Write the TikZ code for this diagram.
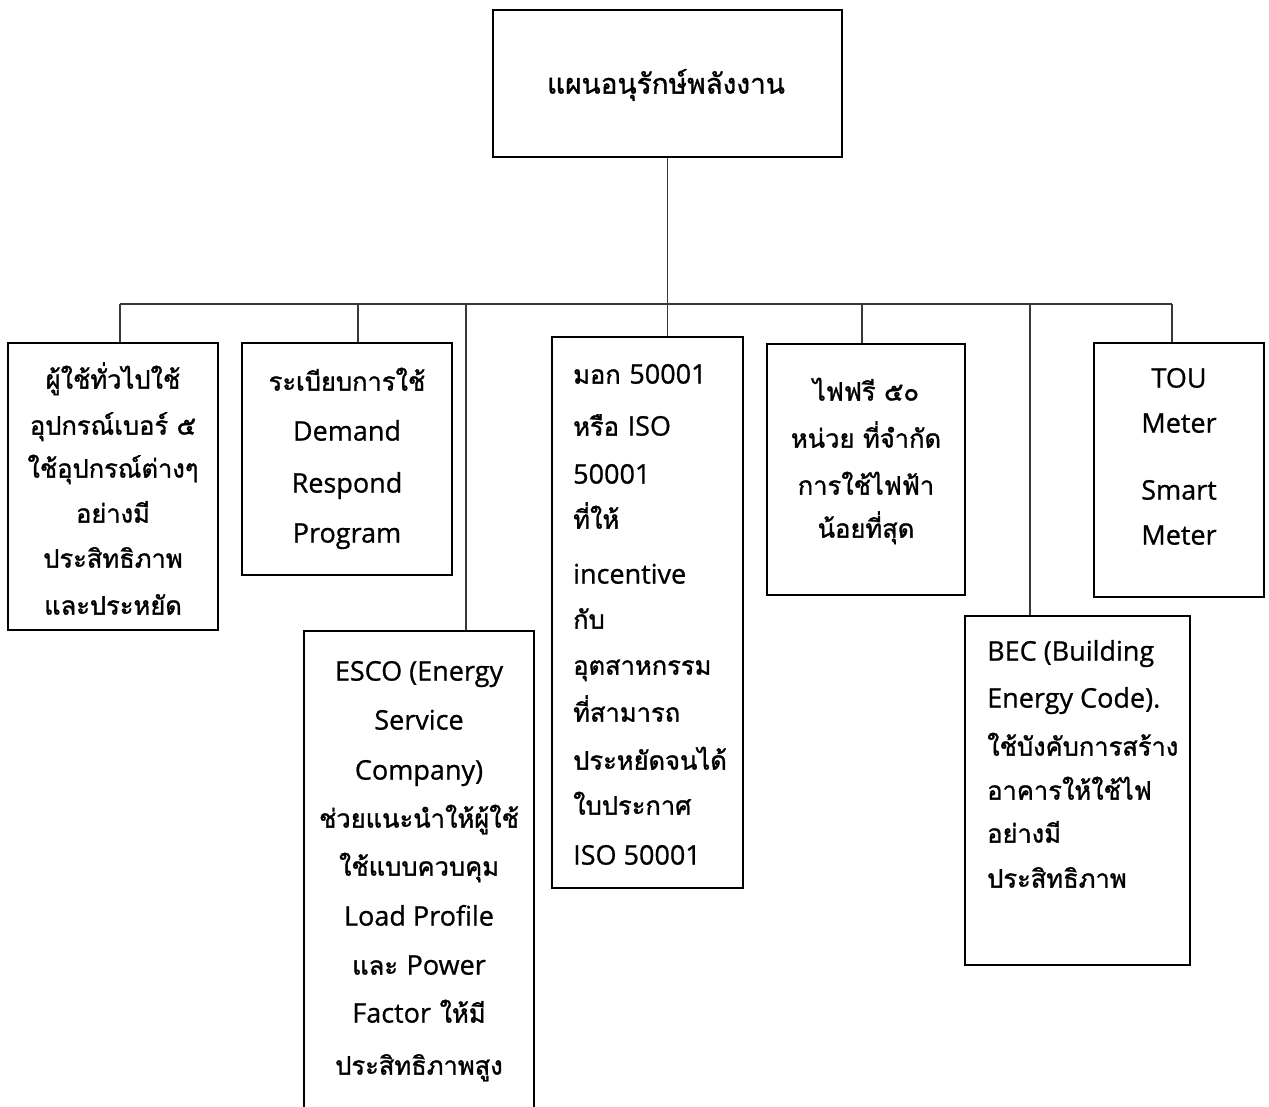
\documentclass[tikz,border=0pt]{standalone}
\usepackage{fontspec}
\setmainfont{Loma}[Script=Thai,FakeBold=1.2]
\newfontfamily\latfont{Open Sans}[FakeBold=0.8]
% Latin words are set in a separate sans family
\newcommand\Lt[1]{{\latfont\fontsize{27}{30}\selectfont #1}}
\begin{document}
\begin{tikzpicture}[x=1pt,y=-1pt,
  box/.style={draw=black,line width=2.4pt,inner sep=0pt,fill=white},
  conn/.style={draw=black!78,line width=1.3pt},
  txt/.style={inner sep=0pt,yshift=-5pt,font=\fontsize{25.5}{30}\selectfont},
  ctr/.style={txt,anchor=mid},
  lft/.style={txt,anchor=mid west}]
\useasboundingbox (0,0) rectangle (1269,1106);

% boxes
\node[box,minimum width=349pt,minimum height=147pt] (root) at (667.5,83.5) {};
\node[box,minimum width=210pt,minimum height=287pt] (b1) at (113,486.5) {};
\node[box,minimum width=210pt,minimum height=232pt] (b2) at (347,459) {};
\begin{scope}
  \clip (0,0) rectangle (1269,1106);
  \node[box,minimum width=230pt,minimum height=494pt] (b3) at (419,878) {};
\end{scope}
\node[box,minimum width=191pt,minimum height=551pt] (b4) at (647.5,612.5) {};
\node[box,minimum width=198pt,minimum height=251pt] (b5) at (866,469.5) {};
\node[box,minimum width=225pt,minimum height=349pt] (b6) at (1077.5,790.5) {};
\node[box,minimum width=170pt,minimum height=254pt] (b7) at (1179,470) {};

% tree connectors
\coordinate (d1) at (120,304);
\coordinate (d2) at (358,304);
\coordinate (d3) at (466,304);
\coordinate (d5) at (862,304);
\coordinate (d6) at (1030,304);
\coordinate (d7) at (1172,304);
\draw[conn] (root.south) -- (root.south |- b4.north);
\draw[conn] (d1) -- (d7);
\draw[conn] (d1) -- (d1 |- b1.north);
\draw[conn] (d2) -- (d2 |- b2.north);
\draw[conn] (d3) -- (d3 |- b3.north);
\draw[conn] (d5) -- (d5 |- b5.north);
\draw[conn] (d6) -- (d6 |- b6.north);
\draw[conn] (d7) -- (d7 |- b7.north);

% texts
\node[ctr,font=\fontsize{28}{30}\selectfont] (t0) at (666,86) {แผนอนุรักษ์พลังงาน};

\foreach \y/\t [count=\i] in {381/{ผู้ใช้ทั่วไปใช้},427/{อุปกรณ์เบอร์ ๕},470/{ใช้อุปกรณ์ต่างๆ},515/{อย่างมี},560/{ประสิทธิภาพ},607/{และประหยัด}}
  \node[ctr] (t1-\i) at (113,\y) {\t};

\foreach \y/\t [count=\i] in {383/{ระเบียบการใช้},433/{\Lt{Demand}},485/{\Lt{Respond}},535/{\Lt{Program}}}
  \node[ctr] (t2-\i) at (347,\y) {\t};

\foreach \y/\t [count=\i] in {673/{\Lt{ESCO (Energy}},722/{\Lt{Service}},772/{\Lt{Company)}},820/{ช่วยแนะนำให้ผู้ใช้},868/{ใช้แบบควบคุม},918/{\Lt{Load Profile}},967/{และ \Lt{Power}},1015/{\Lt{Factor} ให้มี},1067/{ประสิทธิภาพสูง}}
  \node[ctr] (t3-\i) at (419,\y) {\t};

\foreach \y/\t [count=\i] in {376/{มอก \Lt{50001}},428/{หรือ \Lt{ISO}},476/{\Lt{50001}},521/{ที่ให้},576/{\Lt{incentive}},621/{กับ},667/{อุตสาหกรรม},714/{ที่สามารถ},762/{ประหยัดจนได้},807/{ใบประกาศ},857/{\Lt{ISO 50001}}}
  \node[lft] (t4-\i) at (573,\y) {\t};

\foreach \y/\t [count=\i] in {393/{ไฟฟรี ๕๐},440/{หน่วย ที่จำกัด},487/{การใช้ไฟฟ้า},530/{น้อยที่สุด}}
  \node[ctr] (t5-\i) at (866,\y) {\t};

\foreach \y/\t [count=\i] in {653/{\Lt{BEC (Building}},700/{\Lt{Energy Code).}},748/{ใช้บังคับการสร้าง},792/{อาคารให้ใช้ไฟ},835/{อย่างมี},880/{ประสิทธิภาพ}}
  \node[lft] (t6-\i) at (987,\y) {\t};

\foreach \y/\t [count=\i] in {380/{\Lt{TOU}},425/{\Lt{Meter}},492/{\Lt{Smart}},537/{\Lt{Meter}}}
  \node[ctr] (t7-\i) at (1179,\y) {\t};
\end{tikzpicture}
\end{document}
